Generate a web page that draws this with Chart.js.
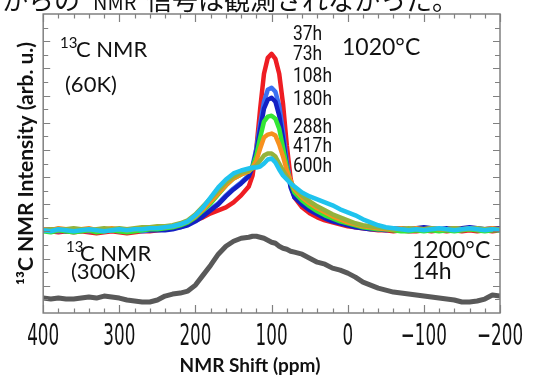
<!DOCTYPE html>
<html>
<head>
<meta charset="utf-8">
<script src="https://cdn.jsdelivr.net/npm/chart.js@4.4.0/dist/chart.umd.min.js"></script>
<style>
  body { margin: 0; background: #fff; }
  #wrap { width: 537px; height: 375px; }
</style>
</head>
<body>
<div id="wrap"><canvas id="nmr" width="537" height="375"></canvas></div>
<script>
// chemical shift grid (ppm), shared by every spectrum
var shifts = [400,390,380,370,360,350,340,330,320,310,300,290,280,270,260,250,240,230,220,210,200,190,180,170,160,150,140,
  130,125,120,115,110,105,100,95,90,85,80,75,70,
  60,50,40,30,20,10,0,-10,-20,-30,-40,-50,-60,-70,-80,-90,-100,-110,-120,-130,-140,-150,-160,-170,-180,-190,-200];

// 1020C anneal, 60K spectra (arb. u.)
var h37 = [83,82,81,82,81,82,81,80,81,82,81,80,81,82,82,83,84,85,87,90,93,96,100,103,106,111,118,
  127,138,165,205,240,256,260,255,240,210,168,135,116,
  106,100,96,93,91,89,87,86,85,84,83,83,82,83,82,82,83,82,83,82,83,82,83,82,83,82,83];
var h73 = [84,83,82,83,84,83,82,83,84,83,82,84,83,82,83,84,84,85,86,89,93,98,104,110,118,125,131,
  138,148,165,190,212,224,226,222,208,182,152,128,117,
  110,104,100,96,93,91,89,87,86,85,84,84,85,84,83,84,85,84,83,84,85,84,85,84,83,84,84];
var h108 = [83,84,83,82,83,84,83,82,83,84,83,82,83,84,83,83,83,84,86,88,92,97,103,109,117,124,130,
  137,146,162,184,205,214,216,212,198,175,147,126,116,
  109,103,99,95,92,90,88,86,85,84,84,83,84,85,84,85,86,85,84,85,84,85,86,85,84,85,85];
var h180 = [82,81,83,82,81,82,83,81,82,83,82,81,82,83,84,84,85,86,88,91,96,103,110,119,128,135,139,
  142,147,158,176,192,197,198,195,185,166,146,131,121,
  113,107,102,98,95,92,90,88,86,85,84,84,83,82,82,83,82,83,82,83,82,83,84,83,82,83,83];
var h288 = [84,83,85,84,83,84,85,83,84,85,84,83,84,85,85,86,86,87,89,92,97,104,112,120,128,135,139,
  142,146,153,165,176,179,180,178,169,157,143,133,124,
  116,110,105,101,97,94,91,89,87,86,85,84,84,85,84,85,84,85,84,84,85,84,85,84,84,85,84];
var h417 = [83,84,83,84,85,84,83,84,85,84,85,84,85,86,86,87,87,88,90,93,99,107,115,123,131,137,141,
  143,145,148,153,158,160,160,157,150,143,137,131,126,
  118,112,107,103,99,96,93,90,88,87,86,85,84,84,85,84,84,85,84,84,85,84,84,85,84,84,84];
var h600 = [83,82,84,83,82,83,84,83,82,83,84,83,84,84,85,85,86,87,89,92,98,106,116,126,134,140,143,
  145,146,146,147,150,154,155,151,144,138,134,130,127,
  121,117,114,111,108,104,101,98,94,91,88,86,85,84,83,84,83,84,85,84,83,84,85,84,83,84,83];

// 1200C 14h, 300K spectrum
var h1200 = [15,14,15,14,14,15,16,15,17,16,15,13,12,11,11,13,17,19,20,22,28,38,48,59,67,72,75,
  76,77,77,76,75,73,71,70,67,65,64,62,61,
  59,55,51,49,45,43,40,36,31,28,25,23,21,20,19,18,17,16,15,14,13,11,11,12,14,18,17];

var seriesLabels = ['37h','73h','108h','180h','288h','417h','600h'];
var seriesColors = ['#ee1d23','#3b6ff2','#1320c4','#35e635','#f7901e','#94b23c','#1fc3ee'];
var xTicks = [400,300,200,100,0,-100,-200];

function pts(arr) {
  return shifts.map(function(s, i) { return { x: s, y: arr[i] }; });
}

var series = [h37, h73, h108, h180, h288, h417, h600];
var datasets = series.map(function(arr, i) {
  return {
    label: seriesLabels[i],
    data: pts(arr),
    borderColor: seriesColors[i],
    borderWidth: 4.5,
    order: 10 - i
  };
});
datasets.push({ label: '1200C 14h', data: pts(h1200), borderColor: '#595959', borderWidth: 5, order: 0 });

// narrow text: squeeze a normal face horizontally
function narrowText(c, txt, x, y, sx) {
  c.save();
  c.translate(x, y);
  c.scale(sx, 1);
  c.fillText(txt, 0, 0);
  c.restore();
}

// box with inward ticks on all four sides, plus the x tick labels
var frame = {
  id: 'frame',
  afterDatasetsDraw: function(chart) {
    var c = chart.ctx, a = chart.chartArea, xs = chart.scales.x, ys = chart.scales.y;
    c.save();
    c.strokeStyle = '#808080';
    c.lineWidth = 1.5;
    c.strokeRect(a.left, a.top, a.right - a.left, a.bottom - a.top);
    c.lineWidth = 1.2;
    c.beginPath();
    for (var v = -200; v <= 400; v += 20) {
      var px = Math.round(xs.getPixelForValue(v)) + 0.5;
      var len = (v % 100 === 0) ? 8 : 4.5;
      c.moveTo(px, a.bottom); c.lineTo(px, a.bottom - len);
      c.moveTo(px, a.top); c.lineTo(px, a.top + len);
    }
    for (var k = 1; k < 22; k++) {
      var py = Math.round(ys.getPixelForValue(k * 300 / 22)) + 0.5;
      var l2 = (k % 2 === 0) ? 7 : 5;
      c.moveTo(a.left, py); c.lineTo(a.left + l2, py);
      c.moveTo(a.right, py); c.lineTo(a.right - l2, py);
    }
    c.stroke();

    c.fillStyle = '#111';
    c.font = '30px "DejaVu Sans"';
    c.textAlign = 'center';
    c.textBaseline = 'middle';
    xTicks.forEach(function(t) {
      var lbl = t < 0 ? '\u2212' + Math.abs(t) : String(t);
      narrowText(c, lbl, xs.getPixelForValue(t), 337, 0.56);
    });
    c.restore();
  }
};

var notes = {
  id: 'notes',
  afterDraw: function(chart) {
    var c = chart.ctx;
    c.save();
    c.fillStyle = '#111';
    c.textBaseline = 'alphabetic';
    c.textAlign = 'left';
    // clipped caption line at the very top
    c.font = '26px "Noto Sans CJK JP"';
    c.fillText('からの', 2, 10);
    c.font = '20px "Noto Sans CJK JP"';
    c.fillText('NMR', 93, 10);
    c.font = '26px "Noto Sans CJK JP"';
    c.fillText('信号は観測されなかった。', 146, 10);

    // upper spectra annotation
    c.font = '15px Lato';
    c.fillText('13', 60, 48);
    c.font = '22px Lato';
    c.fillText('C NMR', 76, 57);
    c.fillText('(60K)', 65, 92);
    c.font = '23px Lato';
    c.fillText('1020°C', 342, 55);

    c.font = '21px Roboto';
    var ly = [40, 60, 82, 105, 133, 152, 172];
    seriesLabels.forEach(function(t, i) { narrowText(c, t, 293, ly[i], 0.83); });

    // lower spectrum annotation
    c.font = '15px Lato';
    c.fillText('13', 66, 252);
    c.font = '22px Lato';
    c.fillText('C NMR', 80, 261);
    c.fillText('(300K)', 71, 279);
    c.font = '23px Lato';
    c.fillText('1200°C', 412, 258);
    c.fillText('14h', 412, 279);

    // x axis title
    c.font = 'bold 19px Lato';
    c.textAlign = 'center';
    c.fillText('NMR Shift (ppm)', 250, 372);
    c.restore();
  }
};

new Chart(document.getElementById('nmr'), {
  type: 'line',
  data: { datasets: datasets },
  options: {
    responsive: false,
    animation: false,
    layout: { padding: { left: 0, right: 37, top: 14, bottom: 62 } },
    plugins: { legend: { display: false }, tooltip: { enabled: false } },
    elements: { point: { radius: 0 }, line: { tension: 0, borderJoinStyle: 'round', borderCapStyle: 'round' } },
    scales: {
      x: {
        type: 'linear',
        reverse: true,
        min: -200,
        max: 400,
        ticks: { display: false },
        grid: { display: false, drawTicks: false },
        border: { display: false }
      },
      y: {
        min: 0,
        max: 300,
        ticks: { display: false },
        grid: { display: false, drawTicks: false },
        border: { display: false },
        title: {
          display: true,
          text: '¹³C NMR Intensity (arb. u.)',
          color: '#111',
          font: { family: 'Lato', weight: 'bold', size: 21 },
          padding: { top: 14, bottom: 4 }
        }
      }
    }
  },
  plugins: [frame, notes]
});
</script>
</body>
</html>
